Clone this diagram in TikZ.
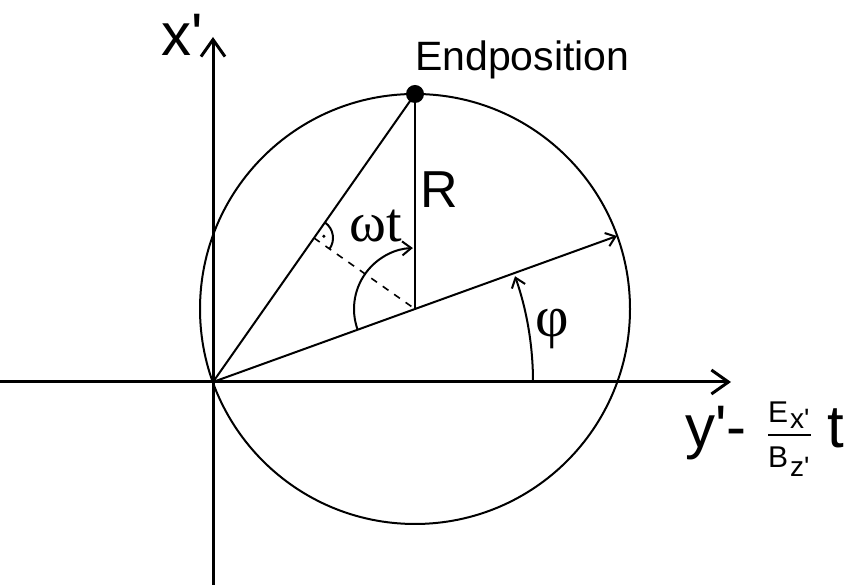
\documentclass[tikz,border=0pt]{standalone}
\usepackage{fontspec}
\newfontfamily\arial{Liberation Sans}
\newfontfamily\serifgr{Liberation Serif}
\usetikzlibrary{arrows.meta,calc}
\tikzset{
  axis/.style={line width=3pt,-{Straight Barb[length=17pt,width=24pt,line width=3pt]}},
  thin line/.style={line width=2pt},
  small arrow/.style={line width=2pt,-{Straight Barb[length=9pt,width=14pt,line width=2pt]}},
  lbl/.style={inner sep=0pt,anchor=base west,font=\arial},
}
\begin{document}
\begin{tikzpicture}[x=1pt,y=1pt]
\useasboundingbox (0,0) rectangle (846,585);
% points
\coordinate (O) at (213,203);
\coordinate (C) at (415,276);
\coordinate (E) at ($(C)+(90:215)$);
\coordinate (D) at ($(C)!-1!(O)$);
\coordinate (M) at ($(O)!0.5!(E)$);
\coordinate (xl) at (0,203);
\coordinate (xr) at (731,203);
\coordinate (yb) at (213,0);
\coordinate (yt) at (213,548);
% axes
\draw[axis] (xl) -- (xr);
\draw[axis] (yb) -- (yt);
% circle
\draw[thin line] (C) circle[radius=215];
% lines
\draw[thin line] (O) -- (E);
\draw[small arrow] (O) -- (D);
\draw[thin line] (C) -- (E);
\draw[line width=1.6pt,dash pattern=on 7pt off 7pt] (M) -- (C);
% right angle mark
\draw[thin line] ($(M)+(54.7:19)$) arc[start angle=54.7,end angle=-35.3,radius=19];
\fill ($(M)+(10:10)$) circle[radius=1.8];
% omega t arc
\draw[small arrow] ($(C)+(199.8:61)$) arc[start angle=199.8,end angle=92,radius=61];
% phi arc
\draw[small arrow] ($(O)+(0:320)$) arc[start angle=0,end angle=19.3,radius=320];
% end point
\fill (E) circle[radius=9];
% labels
\node[lbl] (lx) at (161,529) {\fontsize{60}{60}\selectfont x'};
\node[lbl] (lend) at (415,514) {\fontsize{41}{41}\selectfont Endposition};
\node[lbl] (lR) at (420,377) {\fontsize{52}{52}\selectfont R};
\node[lbl,font=\serifgr] (lwt) at (349,343) {\fontsize{56}{56}\selectfont ωt};
\node[inner sep=0pt,font=\serifgr] (lphi) at (552,256) {\fontsize{58}{58}\selectfont φ};
\node[lbl] (ly) at (685,137) {\fontsize{60}{60}\selectfont y'-};
\node[lbl] (lE) at (768,162) {\fontsize{30}{30}\selectfont E};
\node[lbl] (lEx) at (790,156) {\fontsize{28}{28}\selectfont x'};
\draw[line width=2pt] (768,150) -- (811,150);
\node[lbl] (lB) at (768,117) {\fontsize{30}{30}\selectfont B};
\node[lbl] (lBz) at (790,108) {\fontsize{28}{28}\selectfont z'};
\node[lbl] (lt) at (827,137) {\fontsize{60}{60}\selectfont t};
\end{tikzpicture}
\end{document}
